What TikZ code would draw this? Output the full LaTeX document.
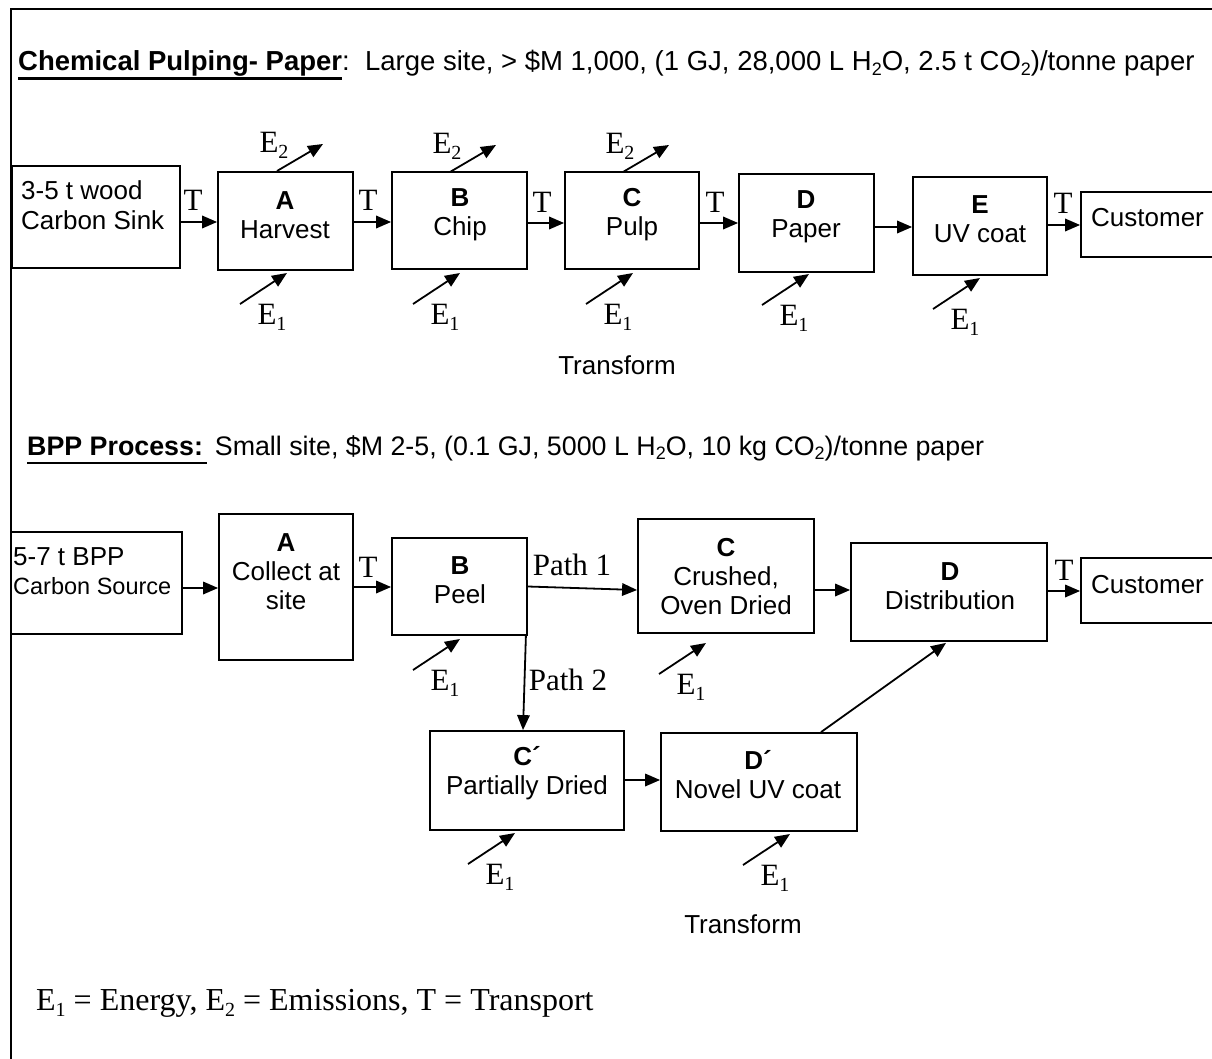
\documentclass[tikz,border=0pt]{standalone}
\usepackage{fontspec}
\setmainfont{Liberation Serif}
\newfontfamily\arial{Liberation Sans}
\usetikzlibrary{arrows.meta,calc}
\newcommand\sub[1]{\raisebox{-0.2em}{\fontsize{20}{20}\selectfont #1}}
\newcommand\asub[1]{\raisebox{-0.18em}{\fontsize{18}{18}\selectfont #1}}
\newcommand\ulbox[1]{\setbox0\hbox{#1}\rlap{\rule[-9pt]{\wd0}{2.5pt}}\box0}
\tikzset{
  box/.style={draw,line width=1.8pt,inner sep=0pt},
  arr/.style={line width=1.8pt,-{Triangle[length=15pt,width=12.5pt]}},
  sans/.style={font=\arial\fontsize{26}{29}\selectfont,align=center,inner sep=0pt},
  hdr/.style={font=\arial\fontsize{27.5}{30}\selectfont,inner sep=0pt,anchor=base west},
  tim/.style={font=\fontsize{31}{31}\selectfont,inner sep=0pt},
}
% E1 input arrow: name, x, y of tail
\newcommand\eone[3]{%
  \coordinate (#1s) at (#2,#3);
  \coordinate (#1t) at ($(#1s)+(47,-31)$);
  \draw[arr] (#1s) -- (#1t);
  \node[tim] (#1l) at ($(#1s)+(32,13)$) {E\sub{1}};}
% E2 output arrow: name, x, y of tail on box top
\newcommand\etwo[3]{%
  \coordinate (#1s) at (#2,#3);
  \coordinate (#1t) at ($(#1s)+(46,-27)$);
  \draw[arr] (#1s) -- (#1t);
  \node[tim] (#1l) at ($(#1s)+(-3,-26)$) {E\sub{2}};}
\begin{document}
\begin{tikzpicture}[x=1pt,y=-1pt]
\useasboundingbox (0,0) rectangle (1212,1059);
\clip (0,0) rectangle (1212,1059);
\fill[white] (0,0) rectangle (1212,1059);
% frame
\draw[line width=2pt] (11,1100) -- (11,9) -- (1260,9);

% ===== headers
\node[hdr] (h1) at (18,71) {\ulbox{\textbf{Chemical Pulping- Paper}}:\ \ Large site, > \$M 1,000, (1 GJ, 28,000 L H\asub{2}O, 2.5 t CO\asub{2})/tonne paper};
\node[hdr,font=\arial\fontsize{26.8}{30}\selectfont] (h2) at (27,455) {\ulbox{\textbf{BPP Process:}\,}\ Small site, \$M 2-5, (0.1 GJ, 5000 L H\asub{2}O, 10 kg CO\asub{2})/tonne paper};

% row coordinates
\coordinate (y222) at (0,222);
\coordinate (y223) at (0,223);
\coordinate (y225) at (0,225);
\coordinate (y227) at (0,227);
\coordinate (y587) at (0,587);
\coordinate (y588) at (0,588);
\coordinate (y590) at (0,590);
\coordinate (y591) at (0,591);
\coordinate (y780) at (0,780);

% ===== row 1 boxes
\node[box,minimum width=168pt,minimum height=102pt] (S1) at (96,217) {};
\node[box,minimum width=135pt,minimum height=98pt] (A1) at (285.5,221) {};
\node[box,minimum width=135pt,minimum height=97pt] (B1) at (459.5,220.5) {};
\node[box,minimum width=134pt,minimum height=97pt] (C1) at (632,220.5) {};
\node[box,minimum width=135pt,minimum height=98pt] (D1) at (806.5,223) {};
\node[box,minimum width=134pt,minimum height=98pt] (E1) at (980,226) {};
\node[box,minimum width=170pt,minimum height=65pt] (Cu1) at (1166,224.5) {};

\node[sans,anchor=west] (S1a) at (21,190) {3-5 t wood};
\node[sans,anchor=west] (S1b) at (21,220) {Carbon Sink};
\node[sans] (A1x) at (285,215) {\textbf{A}\\Harvest};
\node[sans] (B1x) at (460,215) {\textbf{B}\\Chip};
\node[sans] (C1x) at (632,215) {\textbf{C}\\Pulp};
\node[sans] (D1x) at (806,217) {\textbf{D}\\Paper};
\node[sans] (E1x) at (980,219) {\textbf{E}\\UV coat};
\node[sans,anchor=west] (Cu1x) at (1091,218) {Customer};

% row 1 flow
\draw[arr] (S1.east |- y222) -- (A1.west |- y222);
\draw[arr] (A1.east |- y222) -- (B1.west |- y222);
\draw[arr] (B1.east |- y223) -- (C1.west |- y223);
\draw[arr] (C1.east |- y223) -- (D1.west |- y223);
\draw[arr] (D1.east |- y227) -- (E1.west |- y227);
\draw[arr] (E1.east |- y225) -- (Cu1.west |- y225);
\node[tim] (T1) at (193,200) {T};
\node[tim] (T2) at (368,200) {T};
\node[tim] (T3) at (542,202) {T};
\node[tim] (T4) at (715,202) {T};
\node[tim] (T5) at (1063,203) {T};

\etwo{ea}{277}{171}
\etwo{eb}{450}{172}
\etwo{ec}{623}{172}
\eone{fa}{240}{304}
\eone{fb}{413}{304}
\eone{fc}{586}{304}
\eone{fd}{762}{305}
\eone{fe}{933}{309}

\node[sans] (tr1) at (617,365) {Transform};

% ===== row 2 boxes
\node[box,minimum width=171pt,minimum height=102pt] (S2) at (96.5,583) {};
\node[box,minimum width=134pt,minimum height=146pt] (A2) at (286,587) {};
\node[box,minimum width=135pt,minimum height=97pt] (B2) at (459.5,586.5) {};
\node[box,minimum width=176pt,minimum height=114pt] (C2) at (726,576) {};
\node[box,minimum width=196pt,minimum height=98pt] (D2) at (949,592) {};
\node[box,minimum width=170pt,minimum height=65pt] (Cu2) at (1166,590.5) {};
\node[box,minimum width=194pt,minimum height=99pt] (Cp) at (527,780.5) {};
\node[box,minimum width=196pt,minimum height=98pt] (Dp) at (759,782) {};

\node[sans,anchor=west] (S2a) at (13,557) {5-7 t BPP};
\node[sans,anchor=west,font=\arial\fontsize{23.5}{26}\selectfont] (S2b) at (13,586) {Carbon Source};
\node[sans] (A2x) at (286,572) {\textbf{A}\\Collect at\\site};
\node[sans] (B2x) at (460,580) {\textbf{B}\\Peel};
\node[sans] (C2x) at (726,577) {\textbf{C}\\Crushed,\\Oven Dried};
\node[sans] (D2x) at (950,586) {\textbf{D}\\Distribution};
\node[sans,anchor=west] (Cu2x) at (1091,585) {Customer};
\node[sans] (Cpx) at (527,773) {\textbf{C´}\\Partially Dried};
\node[sans] (Dpx) at (758,775) {\textbf{D´}\\Novel UV coat};

% row 2 flow
\draw[arr] (S2.east |- y588) -- (A2.west |- y588);
\draw[arr] (A2.east |- y587) -- (B2.west |- y587);
\draw[arr] (B2.east) -- ($(C2.west)+(0,14)$);
\draw[arr] ($(B2.south east)+(-2,0)$) -- ($(Cp.north)+(-4,0)$);
\draw[arr] (C2.east |- y590) -- (D2.west |- y590);
\draw[arr] (D2.east |- y591) -- (Cu2.west |- y591);
\draw[arr] (Cp.east |- y780) -- (Dp.west |- y780);
\draw[arr] ($(Dp.north)+(62,0)$) -- ($(D2.south)+(-3,1)$);
\node[tim] (T6) at (368,567) {T};
\node[tim] (T7) at (1064,570) {T};
\node[tim] (P1) at (572,565) {Path 1};
\node[tim] (P2) at (568,680) {Path 2};

\eone{ga}{413}{670}
\eone{gb}{659}{674}
\eone{gc}{468}{864}
\eone{gd}{743}{865}

\node[sans] (tr2) at (743,924) {Transform};

% legend
\node[tim,anchor=west,font=\fontsize{32}{32}\selectfont] (leg) at (36,1003) {E\sub{1} = Energy, E\sub{2} = Emissions, T = Transport};
\end{tikzpicture}
\end{document}
